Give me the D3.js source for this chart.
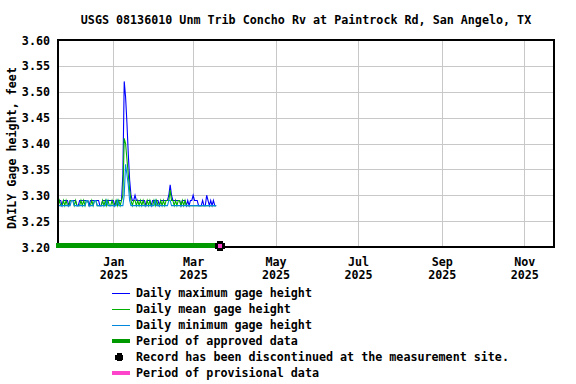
<!DOCTYPE html>
<html>
<head>
<meta charset="utf-8">
<script src="https://cdn.jsdelivr.net/npm/d3@7"></script>
<style>
  html, body { margin: 0; padding: 0; background: #fff; }
  svg { display: block; }
  text { font-family: "DejaVu Sans Mono", monospace; font-weight: bold; font-size: 11.7px; fill: #000; }
</style>
</head>
<body>
<svg id="chart" width="576" height="384"></svg>
<script>
// ---------------- DATA ----------------
const titleText = "USGS 08136010 Unm Trib Concho Rv at Paintrock Rd, San Angelo, TX";
const yLabelText = "DAILY Gage height, feet";
const startDate = "2024-11-21";           // first daily value
const domainStart = "2024-11-21";
const domainEnd = "2025-11-23";
const yTicks = [3.20, 3.25, 3.30, 3.35, 3.40, 3.45, 3.50, 3.55, 3.60];
const xTickDates = ["2025-01-01", "2025-03-01", "2025-05-01", "2025-07-01", "2025-09-01", "2025-11-01"];
const xTickMonths = ["Jan", "Mar", "May", "Jul", "Sep", "Nov"];
const xTickYears = ["2025", "2025", "2025", "2025", "2025", "2025"];

const dailyMax = [
  3.29,3.29,3.29,3.28,3.29,3.29,3.29,3.29,3.28,3.29,
  3.29,3.29,3.29,3.29,3.28,3.28,3.29,3.29,3.29,3.29,
  3.29,3.29,3.29,3.28,3.29,3.29,3.29,3.29,3.29,3.29,
  3.29,3.28,3.28,3.29,3.29,3.29,3.29,3.29,3.29,3.29,
  3.29,3.29,3.28,3.29,3.29,3.29,3.29,
  3.29,3.34,3.52,3.49,3.44,3.38,3.33,3.30,3.29,3.29,
  3.30,3.29,3.29,3.29,3.29,3.29,3.29,3.29,3.28,3.29,
  3.29,3.29,3.28,3.29,3.29,3.29,3.29,3.29,3.28,3.29,
  3.29,3.29,3.29,3.29,3.29,3.30,3.32,3.30,3.29,3.29,
  3.29,3.29,3.29,3.29,3.28,3.29,3.29,3.29,3.28,3.29,
  3.28,3.29,3.29,3.30,3.29,3.29,3.29,3.28,3.28,3.28,
  3.29,3.28,3.28,3.30,3.29,3.28,3.29,3.28,3.29,3.28,
  3.28
];
const dailyMean = [
  3.28,3.29,3.28,3.28,3.29,3.28,3.29,3.28,3.28,3.29,
  3.29,3.29,3.28,3.29,3.28,3.28,3.28,3.29,3.28,3.29,
  3.28,3.29,3.29,3.28,3.28,3.29,3.28,3.29,3.29,3.28,
  3.28,3.28,3.28,3.29,3.28,3.29,3.28,3.29,3.28,3.28,
  3.29,3.28,3.28,3.29,3.28,3.29,3.28,
  3.29,3.30,3.41,3.40,3.37,3.34,3.31,3.29,3.28,3.29,
  3.29,3.28,3.29,3.28,3.29,3.28,3.29,3.28,3.28,3.29,
  3.28,3.29,3.28,3.28,3.29,3.28,3.29,3.28,3.28,3.29,
  3.28,3.29,3.28,3.29,3.29,3.29,3.31,3.29,3.29,3.28,
  3.29,3.28,3.29,3.29,3.28,3.29,3.28,3.29,3.28,3.28,
  3.28,3.28,3.28,3.28,3.28,3.28,3.28,3.28,3.28,3.28,
  3.28,3.28,3.28,3.28,3.28,3.28,3.28,3.28,3.28,3.28,
  3.28
];
const dailyMin = [
  3.28,3.28,3.28,3.28,3.28,3.28,3.28,3.28,3.28,3.28,
  3.29,3.29,3.28,3.28,3.28,3.28,3.28,3.28,3.28,3.28,
  3.28,3.29,3.29,3.28,3.28,3.28,3.28,3.29,3.29,3.28,
  3.28,3.28,3.28,3.28,3.28,3.28,3.29,3.28,3.28,3.28,
  3.28,3.28,3.28,3.28,3.29,3.28,3.28,
  3.28,3.28,3.30,3.36,3.34,3.32,3.29,3.28,3.28,3.28,
  3.28,3.28,3.28,3.28,3.28,3.28,3.28,3.28,3.28,3.28,
  3.28,3.28,3.28,3.28,3.28,3.29,3.28,3.28,3.28,3.28,
  3.28,3.28,3.28,3.28,3.28,3.29,3.29,3.28,3.28,3.28,
  3.28,3.28,3.28,3.28,3.28,3.28,3.28,3.28,3.28,3.28,
  3.28,3.28,3.28,3.28,3.28,3.28,3.28,3.28,3.28,3.28,
  3.28,3.28,3.28,3.28,3.28,3.28,3.28,3.28,3.28,3.28,
  3.28
];
const approvedStart = "2024-11-20T12:00";
const approvedEnd = "2025-03-21";
const discontinuedDate = "2025-03-21";
const discontinuedValue = 3.2;

const legendLabels = [
  "Daily maximum gage height",
  "Daily mean gage height",
  "Daily minimum gage height",
  "Period of approved data",
  "Record has been discontinued at the measurement site.",
  "Period of provisional data"
];

// ---------------- STYLE ----------------
const colMax = "#0000ff", colMean = "#00b000", colMin = "#0088dd";
const colApproved = "#009900", colProv = "#ff44cc";
const M = { left: 58, right: 554, top: 40, bottom: 247 };

const svg = d3.select("#chart");
const parse = d3.timeParse("%Y-%m-%d");
const parseT = d3.timeParse("%Y-%m-%dT%H:%M");
const d0 = parse(startDate);
const dates = dailyMax.map((_, i) => d3.timeDay.offset(d0, i));

const x = d3.scaleTime().domain([parse(domainStart), parse(domainEnd)]).range([M.left, M.right]);
const y = d3.scaleLinear().domain([3.20, 3.60]).range([M.bottom, M.top]);

// grid
const grid = svg.append("g").attr("shape-rendering", "crispEdges");
grid.selectAll("line.h").data(yTicks).join("line")
  .attr("x1", M.left).attr("x2", M.right)
  .attr("y1", d => Math.round(y(d)) + 0.5).attr("y2", d => Math.round(y(d)) + 0.5)
  .attr("stroke", "#c8c8c8").attr("stroke-width", 1);
grid.selectAll("line.v").data(xTickDates.map(parse)).join("line")
  .attr("x1", d => Math.round(x(d)) + 0.5).attr("x2", d => Math.round(x(d)) + 0.5)
  .attr("y1", M.top).attr("y2", M.bottom)
  .attr("stroke", "#c8c8c8").attr("stroke-width", 1);

// data lines
svg.append("clipPath").attr("id", "plotclip").append("rect")
  .attr("x", M.left).attr("y", M.top).attr("width", M.right - M.left).attr("height", M.bottom - M.top);
const lineGen = arr => d3.line().x((d, i) => x(dates[i])).y(d => y(d))(arr);
const series = [[dailyMax, colMax], [dailyMean, colMean], [dailyMin, colMin]];
svg.append("g").attr("clip-path", "url(#plotclip)")
  .selectAll("path").data(series).join("path")
  .attr("d", d => lineGen(d[0]))
  .attr("fill", "none").attr("stroke", d => d[1]).attr("stroke-width", 1.1);

// border
svg.append("rect").attr("x", M.left).attr("y", M.top)
  .attr("width", M.right - M.left).attr("height", M.bottom - M.top)
  .attr("fill", "none").attr("stroke", "#000").attr("stroke-width", 2)
  .attr("shape-rendering", "crispEdges");

// approved bar
svg.append("rect")
  .attr("x", x(parseT(approvedStart)) - 1)
  .attr("y", y(discontinuedValue) - 4)
  .attr("width", x(parse(approvedEnd)) - x(parseT(approvedStart)) + 1)
  .attr("height", 5)
  .attr("fill", colApproved)
  .attr("shape-rendering", "crispEdges");

// discontinued marker
function plusPath(cx, cy, s, w) {
  const a = s / 2, b = w / 2;
  return `M${cx - b},${cy - a}H${cx + b}V${cy - b}H${cx + a}V${cy + b}H${cx + b}V${cy + a}H${cx - b}V${cy + b}H${cx - a}V${cy - b}H${cx - b}Z`;
}
const mx = Math.round(x(parse(discontinuedDate))), my = Math.round(y(discontinuedValue) - 1.5);
svg.append("path").attr("d", plusPath(mx, my, 10, 6)).attr("fill", "#000").attr("shape-rendering", "crispEdges");
svg.append("rect").attr("x", mx - 2).attr("y", my - 2).attr("width", 4).attr("height", 4).attr("fill", colProv)
  .attr("shape-rendering", "crispEdges");

// axes
const yAxis = d3.axisLeft(y).tickValues(yTicks).tickSize(0).tickPadding(8).tickFormat(d3.format(".2f"));
const gy = svg.append("g").attr("transform", `translate(${M.left},0)`).call(yAxis);
gy.select(".domain").remove();
gy.selectAll("text").attr("font-family", null).attr("font-size", null).attr("dy", "0.35em");

const xAxis = d3.axisBottom(x).tickValues(xTickDates.map(parse)).tickSize(0).tickFormat(() => "");
const gx = svg.append("g").attr("transform", `translate(0,${M.bottom})`).call(xAxis);
gx.select(".domain").remove();
gx.selectAll(".tick text").each(function (d, i) {
  const t = d3.select(this).attr("y", 0).attr("dy", null).attr("font-family", null).attr("font-size", null);
  t.append("tspan").attr("x", 0).attr("y", 19).text(xTickMonths[i]);
  t.append("tspan").attr("x", 0).attr("y", 32).text(xTickYears[i]);
});

// title & y label
svg.append("text").attr("x", (M.left + M.right) / 2).attr("y", 24).attr("text-anchor", "middle").text(titleText);
svg.append("text").attr("transform", "translate(16,148) rotate(-90)").attr("text-anchor", "middle").text(yLabelText);

// legend
const legY = [293, 309, 325, 341, 357, 373];
const lg = svg.append("g");
const legLineCols = [colMax, colMean, colMin];
legendLabels.forEach((lab, i) => {
  const yy = legY[i];
  if (i < 3) {
    lg.append("rect").attr("x", 112).attr("y", yy).attr("width", 18).attr("height", 1)
      .attr("fill", legLineCols[i]).attr("shape-rendering", "crispEdges");
  } else if (i === 3 || i === 5) {
    lg.append("rect").attr("x", 112).attr("y", yy - 2).attr("width", 18).attr("height", 4)
      .attr("fill", i === 3 ? colApproved : colProv).attr("shape-rendering", "crispEdges");
  } else {
    lg.append("path").attr("d", plusPath(119, yy, 8, 5)).attr("fill", "#000").attr("shape-rendering", "crispEdges");
  }
  lg.append("text").attr("x", 136).attr("y", yy).attr("dy", "0.35em").text(lab);
});
</script>
</body>
</html>
